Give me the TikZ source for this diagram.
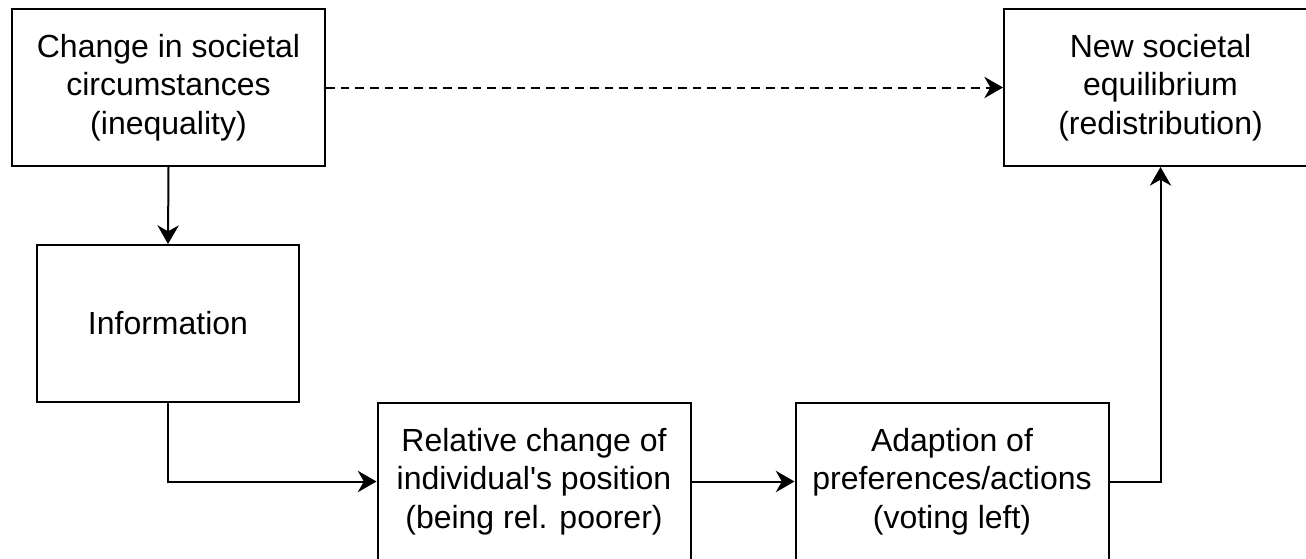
\documentclass[tikz,border=0pt]{standalone}
\usepackage{fontspec}
\setsansfont{Liberation Sans}
\usetikzlibrary{arrows.meta}

\begin{document}
\begin{tikzpicture}[x=0.75pt,y=-0.75pt,
    box/.style={draw,line width=1.5pt,inner sep=0pt,
                minimum width=234.75pt,minimum height=117.75pt,
                font=\sffamily\fontsize{24}{29}\selectfont,align=center},
    arr/.style={-{Stealth[length=14pt,width=16pt,inset=4.5pt]},line width=1.5pt}]
    \useasboundingbox (0,0) rectangle (1306,558);
    \clip (0,0) rectangle (1306,558);
    \node[box] (cause)  at (168.5,87.5)  {Change in societal\\circumstances\\(inequality)};
    \node[box] (equil)  at (1160.5,87.5) {New societal\\equilibrium\\(redistribution)};
    \node[box,minimum width=196.5pt] (info) at (168,323.5) {Information};
    \node[box] (rel)    at (534,481.5)   {Relative change of\\individual\textquotesingle s position\\(being rel. poorer)};
    \node[box] (adapt)  at (952,481.5)   {Adaption of\\preferences/actions\\(voting left)};
    \draw[arr,dash pattern=on 6.5pt off 4.5pt] (cause.east) -- (equil.west);
    \draw[arr] (cause.south) -- (info.north);
    \draw[arr] (info.south) |- (rel.west);
    \draw[arr] (rel.east)   -- (adapt.west);
    \draw[arr] (adapt.east) -| (equil.south);
  \end{tikzpicture}
\end{document}
